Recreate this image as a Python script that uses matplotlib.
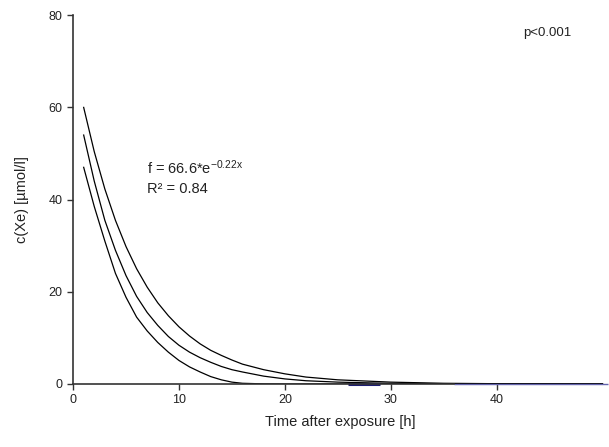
import matplotlib
matplotlib.use("Agg")
import matplotlib.pyplot as plt

plt.rcParams["font.family"] = ["Liberation Sans", "DejaVu Sans"]
plt.rcParams["mathtext.default"] = "regular"

# values
time_h = [1, 2, 3, 4, 5, 6, 7, 8, 9, 10, 11, 12, 13, 14, 15, 16, 18, 20,
          22, 25, 30, 35, 40, 45, 50]
upper = [60, 50.4, 42.3, 35.5, 29.8, 25.0, 21.0, 17.6, 14.8, 12.4, 10.4, 8.7,
         7.3, 6.2, 5.2, 4.3, 3.1, 2.2, 1.5, 0.9, 0.4, 0.15, 0.06, 0.03, 0.01]
fit = [54, 44, 35.5, 29, 23.5, 19, 15.5, 12.7, 10.3, 8.4, 6.9, 5.7, 4.7, 3.8,
       3.1, 2.6, 1.7, 1.1, 0.7, 0.4, 0.13, 0.05, 0.02, 0.01, 0]
lower = [47, 38.5, 31, 24, 18.8, 14.5, 11.5, 9.0, 6.9, 5.1, 3.7, 2.6, 1.6, 0.9,
         0.4, 0.15, 0.02, 0, 0, 0, 0, 0, 0, 0, 0]

# dark traces lying on the x axis at the far right
navy_x = [26, 29]
blue_x = [36, 50.5]
x_ticks = [0, 10, 20, 30, 40]
y_ticks = [0, 20, 40, 60, 80]

fig = plt.figure(figsize=(6.09, 4.47), dpi=100)
ax = fig.add_axes([0.12, 0.141, 0.878, 0.825])

for series in (upper, fit, lower):
    ax.plot(time_h, series, color="black", lw=0.9)

ax.plot(navy_x, [0] * len(navy_x), color="#1c1c72", lw=2.2, clip_on=False,
        solid_capstyle="butt")
ax.plot(blue_x, [0] * len(blue_x), color="#6464ac", lw=1.0, clip_on=False,
        solid_capstyle="butt")

ax.set_xlim(0, 50.5)
ax.set_ylim(0, 80)
ax.set_xticks(x_ticks)
ax.set_yticks(y_ticks)
ax.tick_params(axis="both", direction="out", length=4, width=1,
               colors="#333333", labelsize=9, labelcolor="#222222")

for side in ("top", "right"):
    ax.spines[side].set_visible(False)
for side in ("left", "bottom"):
    ax.spines[side].set_color("#333333")
    ax.spines[side].set_linewidth(1.2)
ax.spines["bottom"].set_bounds(0, 36)

ax.set_xlabel("Time after exposure [h]", fontsize=10.5, color="#222222",
              labelpad=6)
ax.set_ylabel("c(Xe) [µmol/l]", fontsize=10.5, color="#222222", labelpad=14)

ax.text(7.0, 45.6, "f = 66.6*e$^{-0.22x}$", fontsize=10.5, color="#222222")
ax.text(7.0, 41.5, "R² = 0.84", fontsize=10.5, color="#222222")
ax.text(42.5, 75.5, "p<0.001", fontsize=9.5, color="#222222")

fig.savefig("out.png", dpi=100)
